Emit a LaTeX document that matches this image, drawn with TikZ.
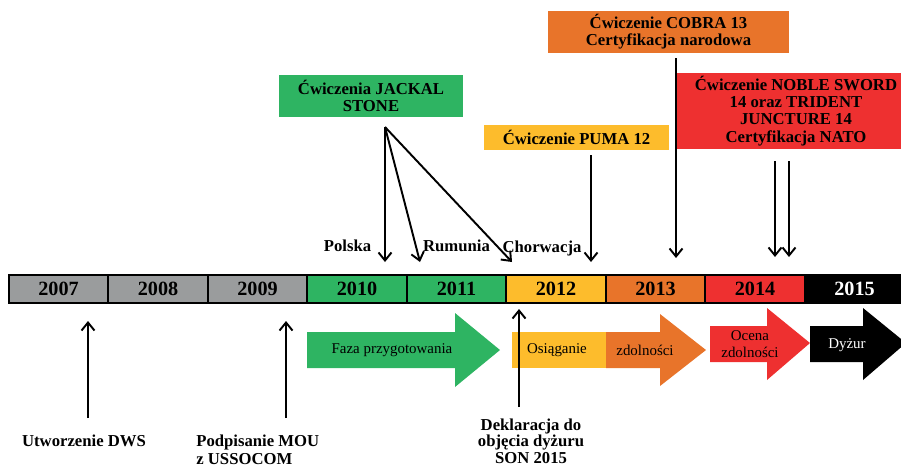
\documentclass[tikz,border=0pt]{standalone}
\usepackage{fontspec}
\setmainfont{Liberation Serif}
\usetikzlibrary{arrows.meta}

\definecolor{yrgray}{HTML}{9A9C9D}
\definecolor{yrgreen}{HTML}{2EB462}
\definecolor{yryellow}{HTML}{FDBC2C}
\definecolor{yrorange}{HTML}{E8742A}
\definecolor{yrred}{HTML}{EE3030}

\begin{document}
\begin{tikzpicture}[x=0.02cm,y=-0.02cm,
    yearcell/.style={draw,line width=1pt,minimum width=1.99cm,minimum height=0.56cm,inner sep=0pt,font=\fontsize{11.5}{12}\selectfont\bfseries},
    exbox/.style={inner sep=0pt,align=center,font=\fontsize{9.5}{9.8}\selectfont\bfseries},
    lbl/.style={inner sep=0pt,align=center,font=\fontsize{9.5}{10}\selectfont\bfseries},
    phase/.style={inner sep=0pt,align=center,font=\fontsize{8.5}{10}\selectfont},
    arr/.style={-{Straight Barb[length=1.6mm,width=2.6mm]},line width=1.1pt}]

    \useasboundingbox (0,0) rectangle (901,468);
    \clip (0,0) rectangle (901,468);

    % timeline
    \node[yearcell,fill=yrgray] (y07) at (58.5,289) {2007};
    \node[yearcell,fill=yrgray] (y08) at (158,289) {2008};
    \node[yearcell,fill=yrgray] (y09) at (257.5,289) {2009};
    \node[yearcell,fill=yrgreen] (y10) at (357,289) {2010};
    \node[yearcell,fill=yrgreen] (y11) at (456.5,289) {2011};
    \node[yearcell,fill=yryellow] (y12) at (556,289) {2012};
    \node[yearcell,fill=yrorange] (y13) at (655.5,289) {2013};
    \node[yearcell,fill=yrred] (y14) at (755,289) {2014};
    \node[yearcell,fill=black,text=white] (y15) at (854.5,289) {2015};

    % exercises
    \node[exbox,fill=yrgreen,minimum width=3.68cm,minimum height=0.84cm] (jackal) at (371,96) {Ćwiczenia JACKAL\\STONE};
    \node[exbox,fill=yryellow,minimum width=3.7cm,minimum height=0.5cm] (puma) at (576.5,137.5) {Ćwiczenie PUMA 12};
    \node[exbox,fill=yrorange,minimum width=4.82cm,minimum height=0.84cm] (cobra) at (668.5,32) {Ćwiczenie COBRA 13\\Certyfikacja narodowa};
    \node[exbox,fill=yrred,minimum width=4.76cm,minimum height=1.52cm] (noble) at (796,111) {Ćwiczenie NOBLE SWORD\\14 oraz TRIDENT\\JUNCTURE 14\\Certyfikacja NATO};

    \node[lbl] (pol) at (347.5,246) {Polska};
    \node[lbl] (rum) at (456.5,246) {Rumunia};
    \node[lbl] (chor) at (542,248) {Chorwacja};

    \coordinate (js) at (385,127);
    \coordinate (jpol) at (385,262);
    \coordinate (jrum) at (420,262);
    \coordinate (jchor) at (512,262);
    \coordinate (pumaA) at (591,155);
    \coordinate (pumaB) at (591,262);
    \coordinate (cobraA) at (676,58);
    \coordinate (cobraB) at (676,258);
    \coordinate (nobleA) at (775,161);
    \coordinate (nobleB) at (775,257);
    \coordinate (nobleC) at (789,161);
    \coordinate (nobleD) at (789,257);

    \draw[arr] (js) -- (jpol);
    \draw[arr] (js) -- (jrum);
    \draw[arr] (js) -- (jchor);
    \draw[arr] (pumaA) -- (pumaB);
    \draw[arr] (cobraA) -- (cobraB);
    \draw[arr] (nobleA) -- (nobleB);
    \draw[arr] (nobleC) -- (nobleD);

    % phases
    \fill[yrgreen] (307,332) -- (455,332) -- (455,313) -- (500,350) -- (455,387) -- (455,368) -- (307,368) -- cycle;
    \fill[yryellow] (512,332) rectangle (606,368);
    \fill[yrorange] (606,332) -- (660,332) -- (660,314) -- (706,350) -- (660,386) -- (660,368) -- (606,368) -- cycle;
    \fill[yrred] (710,326) -- (767,326) -- (767,308) -- (810,343) -- (767,380) -- (767,362) -- (710,362) -- cycle;
    \fill[black] (810,326) -- (863,326) -- (863,308) -- (906,343) -- (863,380) -- (863,362) -- (810,362) -- cycle;

    \node[phase] (faza) at (392,350) {Faza przygotowania};
    \node[phase] (osi) at (557,350) {Osiąganie};
    \node[phase] (zdol) at (645,350) {zdolności};
    \node[phase] (ocena) at (750,344) {Ocena\\zdolności};
    \node[phase,text=white] (dyzur) at (847,345) {Dyżur};

    % milestones
    \node[lbl] (dws) at (84,441) {Utworzenie DWS};
    \node[lbl,anchor=west,align=left] (mou) at (196,450) {Podpisanie MOU\\z USSOCOM};
    \node[lbl,font=\fontsize{9.5}{9.3}\selectfont\bfseries] (dekl) at (531,441) {Deklaracja do\\objęcia dyżuru\\SON 2015};

    \coordinate (dwsA) at (88,418);
    \coordinate (dwsB) at (88,321);
    \coordinate (mouA) at (286,418);
    \coordinate (mouB) at (286,321);
    \coordinate (deklA) at (519,407);
    \coordinate (deklB) at (519,309);

    \draw[arr] (dwsA) -- (dwsB);
    \draw[arr] (mouA) -- (mouB);
    \draw[arr] (deklA) -- (deklB);
\end{tikzpicture}
\end{document}
